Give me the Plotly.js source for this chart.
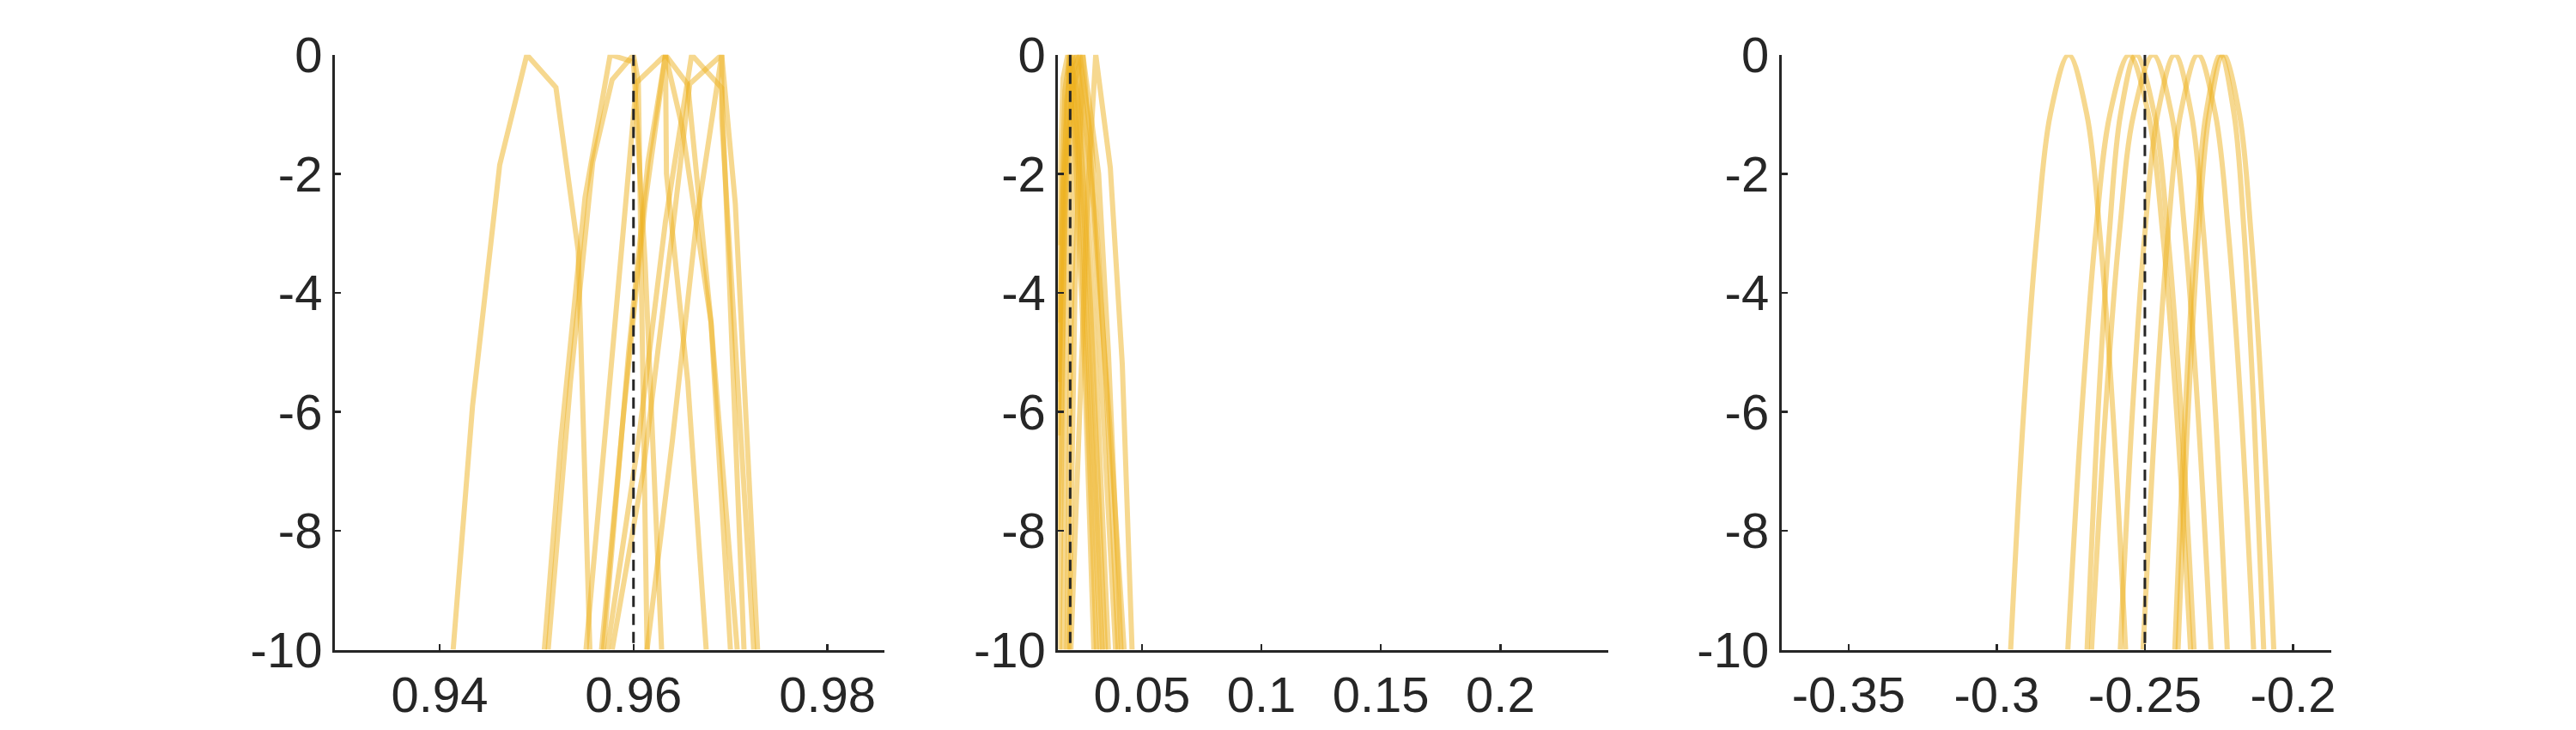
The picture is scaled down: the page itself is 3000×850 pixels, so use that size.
<!DOCTYPE html>
<html>
<head>
<meta charset="utf-8">
<script src="https://cdn.plot.ly/plotly-3.0.1.min.js"></script>
<style>
  html, body { margin: 0; padding: 0; background: #fff; }
  #chart { width: 3000px; height: 850px; }
</style>
</head>
<body>
<div id="chart"></div>
<script>

// panel 1 curves (x values and log-likelihood values)
var p1X = [
    [0.9414, 0.9434, 0.9462, 0.9490, 0.9520, 0.9543, 0.9555],
    [0.9508, 0.9525, 0.9550, 0.9576, 0.9600, 0.9612, 0.9629],
    [0.9512, 0.9535, 0.9558, 0.9578, 0.9600, 0.9605, 0.9614],
    [0.9551, 0.9578, 0.9603, 0.9633, 0.9656, 0.9680, 0.9700],
    [0.9567, 0.9590, 0.9612, 0.9633, 0.9634, 0.9656, 0.9675],
    [0.9569, 0.9595, 0.9615, 0.9633, 0.9650, 0.9680, 0.9707],
    [0.9573, 0.9605, 0.9633, 0.9660, 0.9691, 0.9700, 0.9714],
    [0.9578, 0.9610, 0.9640, 0.9658, 0.9691, 0.9691, 0.9724],
    [0.9614, 0.9640, 0.9665, 0.9691, 0.9705, 0.9728]
];
var p1Y = [
    [-10, -5.9, -1.85, 0, -0.55, -3.3, -10],
    [-10, -6.5, -2.4, 0, -0.12, -3.5, -10],
    [-10, -5.5, -1.8, -0.42, 0, -0.45, -10],
    [-10, -5, -0.47, 0, -0.5, -4.5, -10],
    [-10, -6, -2.5, 0, -2.0, -5.5, -10],
    [-10, -5, -1.8, 0, -1.2, -4.5, -10],
    [-10, -6.5, -2.8, 0, -0.56, -4.2, -10],
    [-10, -7, -3, -0.49, 0, -1.07, -10],
    [-10, -6.5, -2.8, 0, -2.5, -10]
];

// panel 2 curves
var p2X = [
    [0.0150, 0.0170, 0.0190, 0.0220, 0.0260, 0.0299],
    [0.0150, 0.0178, 0.0200, 0.0235, 0.0270, 0.0310],
    [0.0150, 0.0185, 0.0205, 0.0245, 0.0285, 0.0324],
    [0.0154, 0.0175, 0.0195, 0.0228, 0.0262, 0.0300, 0.0335],
    [0.0170, 0.0188, 0.0210, 0.0240, 0.0285, 0.0347],
    [0.0187, 0.0202, 0.0228, 0.0262, 0.0305, 0.0360],
    [0.0195, 0.0220, 0.0253, 0.0290, 0.0335, 0.0390],
    [0.0203, 0.0245, 0.0275, 0.0307, 0.0368, 0.0418, 0.0459],
    [0.0150, 0.0175, 0.0215, 0.0253, 0.0319, 0.0360, 0.0413],
    [0.0150, 0.0180, 0.0210, 0.0240, 0.0290, 0.0350, 0.0401],
    [0.0150, 0.0172, 0.0198, 0.0232, 0.0300, 0.0365, 0.0426]
];
var p2Y = [
    [-3.2, -0.4, 0, -1.5, -5.2, -10],
    [-4.5, -0.6, 0, -2.0, -5.6, -10],
    [-6.4, -0.8, 0, -2.2, -6.0, -10],
    [-10, -3.0, 0, -0.6, -3.0, -6.8, -10],
    [-10, -3.5, 0, -1.0, -4.2, -10],
    [-10, -5.0, 0, -1.6, -5.0, -10],
    [-10, -4.0, 0, -2.0, -5.8, -10],
    [-10, -5.5, -2.2, 0, -1.9, -5.2, -10],
    [-5.5, -2.0, -0.5, 0, -2.0, -5.0, -10],
    [-8.0, -2.5, -0.3, 0, -1.5, -5.5, -10],
    [-6.0, -2.0, -0.2, 0, -2.6, -6.2, -10]
];

// panel 3 curves (smooth)
var p3Y = [-10, -6, -3, -1, 0, -1, -3, -6, -10];
var p3X = [
    [-0.2953, -0.2909, -0.2864, -0.2819, -0.2757, -0.2696, -0.2652, -0.2608, -0.2565],
    [-0.2760, -0.2713, -0.2666, -0.2618, -0.2553, -0.2488, -0.2440, -0.2393, -0.2346],
    [-0.2695, -0.2658, -0.2620, -0.2582, -0.2530, -0.2468, -0.2423, -0.2378, -0.2334],
    [-0.2680, -0.2633, -0.2586, -0.2538, -0.2472, -0.2410, -0.2365, -0.2321, -0.2277],
    [-0.2583, -0.2542, -0.2500, -0.2457, -0.2399, -0.2343, -0.2302, -0.2262, -0.2222],
    [-0.2506, -0.2464, -0.2422, -0.2380, -0.2321, -0.2262, -0.2218, -0.2175, -0.2133],
    [-0.2399, -0.2364, -0.2329, -0.2294, -0.2245, -0.2199, -0.2165, -0.2132, -0.2099],
    [-0.2388, -0.2354, -0.2319, -0.2283, -0.2235, -0.2181, -0.2142, -0.2103, -0.2065]
];

// true values (dashed lines)
var trueVals = [0.96, 0.02, -0.25];

// axis ranges and ticks
var xRanges = [[0.9292, 0.9859], [0.015, 0.245], [-0.3726, -0.1871]];
var xTickVals = [[0.94, 0.96, 0.98], [0.05, 0.1, 0.15, 0.2], [-0.35, -0.3, -0.25, -0.2]];
var xTickText = [['0.94', '0.96', '0.98'], ['0.05', '0.1', '0.15', '0.2'], ['-0.35', '-0.3', '-0.25', '-0.2']];
var yTickVals = [0, -2, -4, -6, -8, -10];
var yTickText = ['0', '-2', '-4', '-6', '-8', '-10'];

var curveColor = 'rgba(237,177,32,0.5)';
var axisColor = '#262626';

var data = [];

function addCurves(xs, ys, n, shape){
    var xa = n == 1 ? 'x' : 'x' + n;
    var ya = n == 1 ? 'y' : 'y' + n;
    for (var i = 0; i < xs.length; i++) {
        data.push({
            x: xs[i],
            y: Array.isArray(ys[0]) ? ys[i] : ys,
            xaxis: xa,
            yaxis: ya,
            type: 'scatter',
            mode: 'lines',
            line: {color: curveColor, width: 6, shape: shape},
            hoverinfo: 'skip',
            showlegend: false
        });
    }
    data.push({
        x: [trueVals[n - 1], trueVals[n - 1]],
        y: [0, -10],
        xaxis: xa,
        yaxis: ya,
        type: 'scatter',
        mode: 'lines',
        line: {color: axisColor, width: 3, dash: '13px,8px'},
        hoverinfo: 'skip',
        showlegend: false
    });
}

addCurves(p1X, p1Y, 1, 'linear');
addCurves(p2X, p2Y, 2, 'linear');
addCurves(p3X, p3Y, 3, 'spline');

var tickFont = {family: 'Liberation Sans, Arial, sans-serif', size: 58, color: axisColor};
var domains = [[0.13, 0.3434], [0.4108, 0.6242], [0.6916, 0.905]];

var layout = {
    width: 3000,
    height: 850,
    margin: {l: 0, r: 0, t: 0, b: 0},
    paper_bgcolor: '#ffffff',
    plot_bgcolor: 'rgba(0,0,0,0)',
    showlegend: false
};

for (var k = 0; k < 3; k++) {
    var sfx = k == 0 ? '' : String(k + 1);
    layout['xaxis' + sfx] = {
        domain: domains[k],
        anchor: 'y' + sfx,
        range: xRanges[k],
        tickmode: 'array',
        tickvals: xTickVals[k],
        ticktext: xTickText[k],
        ticks: 'inside',
        ticklen: 7,
        tickwidth: 2.5,
        tickcolor: axisColor,
        showline: true,
        linecolor: axisColor,
        linewidth: 3,
        showgrid: false,
        zeroline: false,
        tickfont: tickFont
    };
    layout['yaxis' + sfx] = {
        domain: [0.11, 0.925],
        anchor: 'x' + sfx,
        range: [-10, 0],
        tickmode: 'array',
        tickvals: yTickVals,
        ticktext: yTickText,
        ticks: 'inside',
        ticklen: 7,
        tickwidth: 2.5,
        tickcolor: axisColor,
        showline: true,
        linecolor: axisColor,
        linewidth: 3,
        showgrid: false,
        zeroline: false,
        tickfont: tickFont
    };
}

Plotly.newPlot('chart', data, layout, {staticPlot: true});
</script>
</body>
</html>
